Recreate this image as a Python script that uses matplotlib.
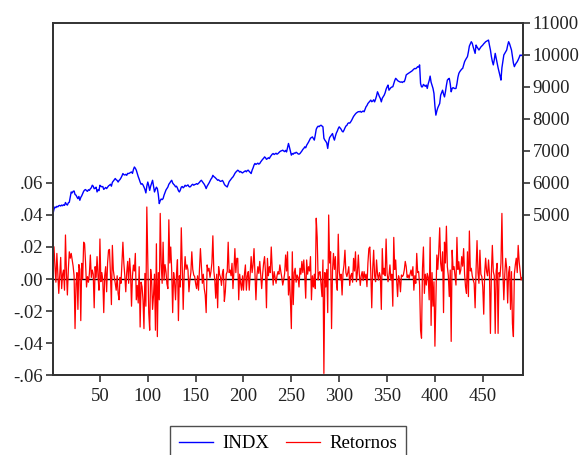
import numpy as np
import matplotlib
matplotlib.use("Agg")
import matplotlib.pyplot as plt
from matplotlib.ticker import FuncFormatter, FixedLocator

plt.rcParams['font.family'] = ['Liberation Serif', 'DejaVu Serif']

# Weekly index level (obs 1..492)
indx = [
    5044, 5180, 5250, 5230, 5270, 5255, 5290, 5300, 5280, 5310,
    5290, 5320, 5300, 5390, 5335, 5310, 5380, 5400, 5560, 5720,
    5690, 5740, 5750, 5640, 5620, 5560, 5510, 5580, 5460, 5550,
    5600, 5670, 5740, 5780, 5795, 5760, 5740, 5790, 5770, 5820,
    5850, 5930, 5900, 5820, 5840, 5870, 5720, 5790, 5760, 5930,
    5900, 5880, 5890, 5800, 5830, 5860, 5825, 5870, 5910, 5930,
    5960, 5900, 6020, 6060, 6100, 6140, 6100, 6080, 6030, 6080,
    6110, 6160, 6220, 6295, 6260, 6250, 6270, 6240, 6300, 6295,
    6310, 6330, 6345, 6300, 6420, 6500, 6460, 6400, 6300, 6200,
    6120, 6030, 5960, 5980, 5940, 5875, 5800, 5690, 5900, 6030,
    5920, 5770, 5900, 5990, 6085, 5900, 5720, 5800, 5870, 5825,
    5640, 5357, 5450, 5500, 5480, 5513, 5620, 5700, 5780, 5830,
    5875, 5960, 6000, 6050, 6085, 6000, 5960, 5930, 5880, 5900,
    5840, 5760, 5720, 5780, 5870, 5890, 5850, 5880, 5930, 5900,
    5920, 5940, 5890, 5875, 5900, 5940, 5960, 5930, 5950, 5960,
    5980, 5960, 5990, 6020, 6060, 6085, 6040, 6000, 5960, 5900,
    5825, 5900, 5950, 6000, 6060, 6120, 6160, 6240, 6200, 6180,
    6150, 6120, 6085, 6100, 6070, 6050, 6060, 6080, 6030, 5960,
    5920, 5900, 5875, 5960, 6040, 6080, 6120, 6160, 6190, 6240,
    6300, 6340, 6370, 6400, 6380, 6340, 6360, 6330, 6315, 6340,
    6360, 6380, 6350, 6390, 6400, 6360, 6330, 6295, 6400, 6470,
    6560, 6610, 6580, 6600, 6620, 6590, 6610, 6660, 6700, 6740,
    6770, 6815, 6790, 6740, 6760, 6790, 6765, 6820, 6860, 6900,
    6920, 6890, 6910, 6930, 6900, 6920, 6950, 6980, 7000, 7010,
    7025, 7000, 6980, 7020, 6970, 7100, 7235, 7120, 6990, 6870,
    6920, 6900, 6940, 6930, 6960, 6940, 6910, 6900, 6920, 6960,
    7000, 7050, 7080, 7130, 7100, 7180, 7230, 7280, 7340, 7400,
    7420, 7440, 7390, 7340, 7500, 7680, 7740, 7775, 7760, 7790,
    7805, 7780, 7755, 7400, 7340, 7300, 7250, 7080, 7300, 7420,
    7460, 7495, 7545, 7420, 7340, 7460, 7560, 7620, 7700, 7755,
    7720, 7680, 7620, 7595, 7650, 7720, 7780, 7800, 7860, 7880,
    7870, 7910, 7960, 8020, 8080, 8120, 8160, 8190, 8210, 8230,
    8225, 8240, 8210, 8230, 8250, 8225, 8300, 8380, 8420, 8485,
    8520, 8560, 8590, 8540, 8560, 8600, 8535, 8620, 8720, 8850,
    8780, 8700, 8640, 8535, 8650, 8700, 8745, 8820, 8930, 9000,
    9060, 8900, 8940, 8980, 9000, 9005, 9100, 9200, 9270, 9240,
    9200, 9180, 9165, 9150, 9160, 9140, 9170, 9165, 9250, 9375,
    9400, 9420, 9440, 9460, 9480, 9500, 9530, 9560, 9580, 9570,
    9600, 9635, 9620, 9690, 9110, 9005, 9005, 9080, 9050, 9020,
    9060, 8955, 9100, 9200, 9340, 9150, 9050, 8955, 8800, 8400,
    8120, 8250, 8350, 8420, 8485, 8745, 8820, 8900, 8780, 8690,
    8850, 9050, 9215, 9250, 9270, 9100, 8850, 8955, 8980, 8960,
    8950, 8955, 9100, 9300, 9425, 9480, 9520, 9560, 9580, 9680,
    9790, 9850, 9900, 9950, 10100, 10280, 10350, 10415, 10365, 10250,
    10150, 10050, 10310, 10250, 10200, 10155, 10200, 10250, 10280, 10310,
    10350, 10380, 10415, 10430, 10450, 10465, 10300, 10155, 9950, 9800,
    9690, 9850, 10050, 9900, 9750, 9600, 9480, 9350, 9215, 9600,
    9800, 10000, 10050, 10100, 10155, 10300, 10415, 10350, 10250, 10155,
    9950, 9750, 9635, 9700, 9750, 9790, 9850, 9920, 10000, 9980,
    10000, 10000,
]

# Weekly returns (obs 2..492)
retornos = [
    0.020, 0.008, -0.002, 0.016, 0.004, -0.009, 0.002, 0.0135, -0.006,
    0.003, 0.0056, -0.007, 0.0275, 0.004, -0.010, 0.006, 0.017, 0.013, 0.016,
    0.012, 0.008, 0.002, -0.031, -0.003, 0.004, -0.019, 0.009, 0.006, -0.026,
    0.0098, 0.0, 0.023, 0.022, 0.0098, -0.005, 0.0015, -0.002, 0.0035, 0.015,
    0.001, 0.0056, 0.003, -0.018, 0.0077, 0.001, 0.014, 0.002, -0.007, 0.025,
    -0.0017, 0.004, -0.0006, -0.021, 0.002, 0.0077, -0.008, 0.010, 0.018, 0.0185,
    0.003, -0.016, 0.021, 0.0056, 0.001, -0.0027, -0.007, 0.002, -0.009, -0.013,
    0.001, -0.0027, 0.010, 0.023, 0.0098, 0.002, -0.008, 0.004, 0.011, -0.0027,
    0.0129, 0.004, -0.017, 0.002, 0.0087, 0.005, 0.016, -0.013, -0.004, -0.015,
    0.0077, -0.030, -0.002, -0.0048, -0.013, -0.031, 0.0035, -0.017, 0.045, 0.010,
    -0.021, -0.032, 0.006, -0.0006, -0.019, -0.010, 0.003, -0.032, 0.022, -0.036,
    0.004, -0.013, 0.041, 0.010, -0.0027, 0.023, -0.0006, 0.009, 0.0046, -0.003,
    -0.006, 0.037, 0.010, 0.020, 0.005, -0.021, 0.004, -0.0017, -0.013, 0.003,
    0.012, -0.026, 0.002, -0.005, 0.032, 0.008, -0.019, 0.003, 0.014, 0.006,
    0.0088, 0.0056, -0.008, -0.0006, 0.004, 0.017, 0.006, 0.0025, 0.0015, -0.003,
    -0.006, 0.002, -0.007, 0.006, 0.019, 0.008, -0.0027, 0.003, -0.006, -0.010,
    -0.021, 0.0088, 0.005, 0.0067, 0.001, 0.0046, 0.010, 0.027, 0.005, -0.0006,
    -0.012, 0.003, -0.018, 0.0077, 0.003, 0.001, -0.004, 0.0035, 0.006, -0.014,
    -0.008, 0.003, 0.0046, 0.023, 0.004, 0.0056, 0.002, 0.0098, -0.006, 0.005,
    0.019, 0.004, 0.0129, 0.0129, -0.013, 0.003, -0.0027, -0.007, 0.002, -0.007,
    0.003, 0.0088, -0.007, 0.002, 0.0046, -0.007, 0.003, 0.014, 0.004, 0.0088,
    0.019, 0.003, -0.013, 0.002, 0.0077, 0.0035, 0.011, 0.002, -0.006, 0.003,
    0.0098, 0.014, 0.004, -0.018, 0.0129, 0.002, 0.0077, 0.004, 0.020, 0.006,
    -0.0038, 0.0046, 0.001, -0.0027, 0.002, 0.0046, 0.003, 0.0088, 0.0046, 0.001,
    -0.0038, -0.0006, 0.0035, 0.015, 0.005, 0.017, -0.010, 0.0015, -0.013, -0.031,
    0.017, -0.016, 0.004, 0.0067, -0.002, 0.0025, 0.001, -0.005, 0.0067, 0.003,
    0.011, 0.004, 0.0119, 0.002, -0.012, 0.0119, 0.003, 0.0077, 0.005, 0.014,
    -0.013, 0.002, -0.005, 0.003, -0.006, 0.038, 0.026, -0.0006, 0.004, 0.0046,
    -0.003, -0.011, 0.0119, -0.059, 0.004, -0.005, 0.006, -0.021, 0.040, 0.010,
    0.017, -0.031, 0.005, 0.016, 0.006, 0.014, -0.002, -0.007, 0.028, 0.005,
    -0.0006, 0.003, -0.010, 0.004, 0.0088, 0.018, 0.004, 0.0015, 0.004, 0.0077,
    -0.004, 0.002, 0.0035, -0.002, 0.0129, 0.005, 0.017, -0.0017, 0.004, 0.015,
    0.003, -0.004, 0.002, 0.0046, -0.001, 0.0046, 0.0004, 0.003, -0.0048, 0.010,
    0.019, 0.020, 0.004, -0.018, 0.006, 0.018, 0.002, -0.0017, 0.0119, 0.003,
    -0.0006, 0.004, 0.0015, -0.019, 0.019, 0.003, 0.0067, 0.002, 0.025, 0.004,
    -0.0017, 0.002, 0.0088, -0.0006, 0.003, -0.017, 0.026, 0.006, 0.0119, -0.0006,
    -0.011, 0.002, -0.0006, -0.008, 0.0025, 0.0015, 0.0025, 0.0056, 0.011, 0.0077,
    0.001, 0.0025, 0.0004, 0.003, 0.0056, 0.002, 0.0077, -0.007, 0.002, -0.0027,
    0.016, 0.004, 0.0046, -0.004, -0.032, -0.037, 0.0067, 0.020, -0.009, 0.003,
    -0.0038, 0.0035, 0.001, -0.013, 0.026, -0.029, 0.004, -0.017, -0.0017, -0.042,
    -0.015, 0.015, 0.006, 0.017, 0.032, 0.0098, 0.005, 0.017, -0.021, 0.023,
    0.010, 0.033, 0.0077, 0.002, -0.011, 0.0056, -0.039, 0.018, 0.006, 0.0077,
    0.002, -0.0038, 0.026, 0.006, 0.0108, 0.003, 0.0056, 0.014, 0.008, 0.019,
    0.003, -0.005, -0.009, 0.017, -0.011, 0.030, 0.005, 0.0067, 0.002, -0.0006,
    -0.0027, -0.018, 0.006, 0.024, 0.004, -0.0027, 0.018, 0.003, 0.0015, -0.005,
    -0.022, 0.004, 0.013, 0.0046, 0.002, 0.0119, 0.003, -0.034, 0.004, 0.021,
    0.0046, 0.002, -0.034, 0.005, 0.0098, -0.034, 0.004, 0.0015, 0.010, 0.041,
    0.004, -0.013, 0.003, 0.0129, 0.0067, -0.015, 0.004, 0.0077, -0.019, 0.0046,
    -0.028, -0.036, 0.003, 0.0088, 0.013, 0.004, 0.021, 0.0108, 0.005, -0.0006,
    0.001, -0.0023,
]

x_ticks = [50, 100, 150, 200, 250, 300, 350, 400, 450]
left_ticks = [-0.06, -0.04, -0.02, 0.00, 0.02, 0.04, 0.06]
right_ticks = [5000, 6000, 7000, 8000, 9000, 10000, 11000]

obs_indx = np.arange(1, len(indx) + 1)
obs_ret = np.arange(2, len(retornos) + 2)

fig = plt.figure(figsize=(5.84, 4.55), dpi=100)
ax = fig.add_axes([0.0908, 0.1758, 0.8047, 0.7737])
ax2 = ax.twinx()

frame = '#333333'
for a in (ax, ax2):
    for s in a.spines.values():
        s.set_color(frame)
        s.set_linewidth(1.3)
ax.spines['top'].set_color('#555555')

l_ret, = ax.plot(obs_ret, retornos, color='#ff0000', lw=0.9, label='Retornos')
ax.axhline(0.0, color='black', lw=1.0, zorder=1)
l_ind, = ax2.plot(obs_indx, indx, color='#0000ff', lw=1.0, label='INDX')

ax.set_xlim(1, len(indx))
ax.set_ylim(-0.06, 0.16)
ax2.set_ylim(0, 11000)

ax.xaxis.set_major_locator(FixedLocator(x_ticks))
ax.yaxis.set_major_locator(FixedLocator(left_ticks))
ax2.yaxis.set_major_locator(FixedLocator(right_ticks))


def fmt_ret(v, pos):
    s = f"{v:.2f}"
    if s.startswith("-0"):
        return "-" + s[2:]
    if s.startswith("0"):
        return s[1:]
    return s


ax.yaxis.set_major_formatter(FuncFormatter(fmt_ret))
ax2.yaxis.set_major_formatter(FuncFormatter(lambda v, p: f"{int(v)}"))

for a in (ax, ax2):
    a.tick_params(direction='out', length=5, width=1.1, pad=2,
                  labelsize=13.5, colors='#222222', labelcolor='#222222')
ax.tick_params(axis='x', pad=4)

leg = fig.legend([l_ind, l_ret], ['INDX', 'Retornos'], loc='upper center',
                 bbox_to_anchor=(0.493, 0.064), ncol=2, frameon=True,
                 fancybox=False, edgecolor='#222222', fontsize=13.5,
                 handlelength=1.8, columnspacing=0.9, handletextpad=0.5,
                 borderpad=0.5, borderaxespad=0.0)
leg.get_frame().set_linewidth(1.0)

fig.savefig('out.png', dpi=100)
